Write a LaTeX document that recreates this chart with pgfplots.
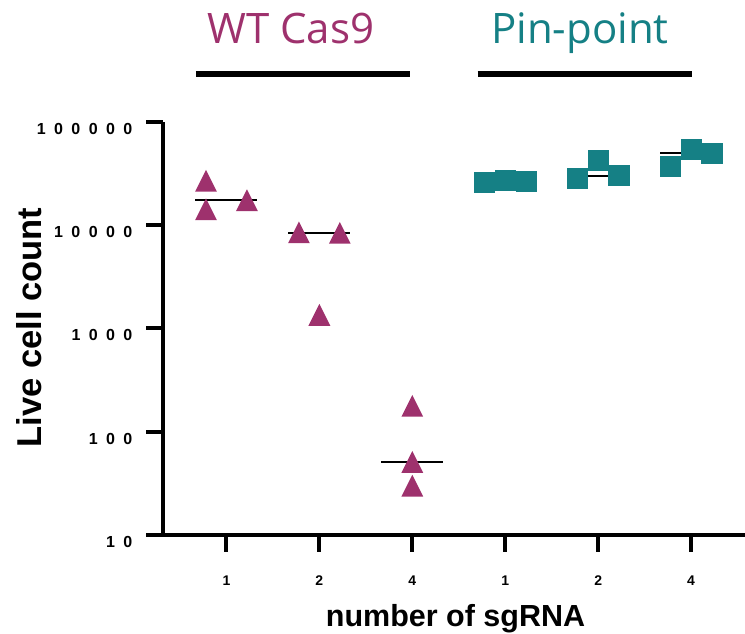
\documentclass[border=0pt]{standalone}
\usepackage{fontspec}
\setmainfont{Liberation Sans}
\newfontfamily\titlefont{Open Sans}
\usepackage{pgfplots}
\usepackage{pgfplotstable}
\pgfplotsset{compat=1.18}

\definecolor{wtc}{RGB}{158,49,109}
\definecolor{ppc}{RGB}{21,128,133}

% filled isosceles triangle (as wide as it is tall), centred on its box
\pgfdeclareplotmark{gtri}{%
  \pgfpathmoveto{\pgfqpoint{0pt}{10.9pt}}%
  \pgfpathlineto{\pgfqpoint{10.9pt}{-10.9pt}}%
  \pgfpathlineto{\pgfqpoint{-10.9pt}{-10.9pt}}%
  \pgfpathclose\pgfusepathqfill}
% filled square without outline
\pgfdeclareplotmark{gsq}{%
  \pgfpathrectangle{\pgfqpoint{-10.6pt}{-10.6pt}}{\pgfqpoint{21.2pt}{21.2pt}}%
  \pgfusepathqfill}

% WT Cas9: 1, 2 and 4 sgRNA at x = 1, 2, 3
\pgfplotstableread{
x y
0.78 26800
0.78 14200
1.22 17400
1.78 8500
2.00 1350
2.22 8400
3.00 178
3.00 51
3.00 30
}\wtdata

% Pin-point: 1, 2 and 4 sgRNA at x = 4, 5, 6
\pgfplotstableread{
x y
3.775 25800
4.000 27100
4.225 26400
4.780 28400
5.000 41800
5.225 29950
5.780 36700
6.000 53450
6.225 49560
}\ppdata

\def\g{\kern8.4pt}

\begin{document}
\begin{tikzpicture}
\useasboundingbox (-163.5pt,-99pt) rectangle (581.5pt,535pt);
\begin{axis}[
  at={(0pt,0pt)}, anchor=south west,
  scale only axis, width=581.5pt, height=413.3pt,
  xmin=0.3226, xmax=6.58,
  ymode=log, ymin=10, ymax=100000,
  clip=false,
  axis x line*=bottom, axis y line*=left,
  axis line style={line width=4pt, black},
  tick align=outside,
  major tick length=17pt,
  tick style={line width=4pt, black},
  yminorticks=false, xminorticks=false,
  xtick={1,2,3,4,5,6},
  xticklabels={1,2,4,1,2,4},
  ytick={10,100,1000,10000,100000},
  yticklabels={{1\g0},{1\g0\g0},{1\g0\g0\g0},{1\g0\g0\g0\g0},{1\g0\g0\g0\g0\g0}},
  yticklabel style={font=\fontsize{16}{18}\selectfont\bfseries, anchor=east, inner sep=0pt, xshift=-14pt, yshift=-7pt},
  xticklabel style={font=\fontsize{14}{16}\selectfont\bfseries, anchor=north, inner sep=0pt, yshift=-24pt},
]
\addplot [only marks, mark=gtri, color=wtc] table [x=x, y=y] {\wtdata};
\addplot [only marks, mark=gsq, color=ppc] table [x=x, y=y] {\ppdata};
% medians
\addplot [black, line width=2pt] coordinates {(0.666,17400) (1.334,17400)};
\addplot [black, line width=2pt] coordinates {(1.666,8400) (2.334,8400)};
\addplot [black, line width=2pt] coordinates {(2.666,51) (3.334,51)};
\addplot [black, line width=2pt] coordinates {(3.666,26400) (4.334,26400)};
\addplot [black, line width=2pt] coordinates {(4.666,29950) (5.334,29950)};
\addplot [black, line width=2pt] coordinates {(5.666,49560) (6.334,49560)};
\end{axis}
% group headings
\draw[line width=6.5pt] (32.5pt,461pt) -- (246.5pt,461pt);
\draw[line width=6.5pt] (314pt,461pt) -- (528pt,461pt);
\node[anchor=base, text=wtc, font=\titlefont\fontsize{42}{48}\selectfont, inner sep=0pt] at (127.3pt,491pt) {WT Cas9};
\node[anchor=base, text=ppc, font=\titlefont\fontsize{42}{48}\selectfont, inner sep=0pt] at (416.5pt,491pt) {Pin-point};
% axis titles
\node[anchor=base, rotate=90, inner sep=0pt, font=\fontsize{34.5}{40}\selectfont\bfseries] at (-121.8pt,207.5pt) {Live cell count};
\node[anchor=base, inner sep=0pt, font=\fontsize{30.5}{36}\selectfont\bfseries] at (292pt,-92pt) {number of sgRNA};
\end{tikzpicture}
\end{document}
